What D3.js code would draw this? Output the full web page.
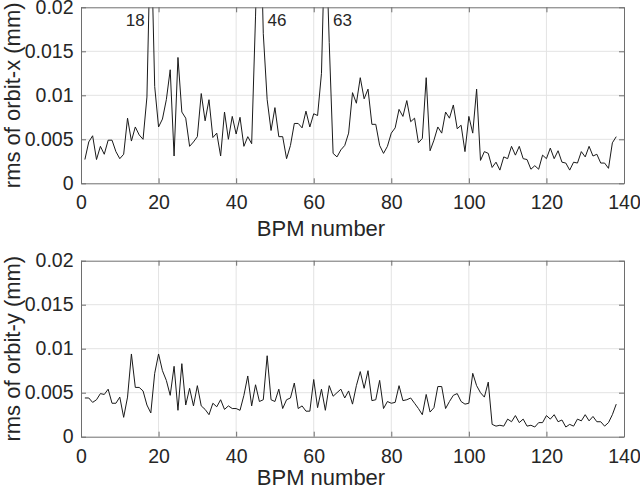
<!DOCTYPE html>
<html>
<head>
<meta charset="utf-8">
<script src="https://cdn.jsdelivr.net/npm/d3@7"></script>
<style>
  html, body { margin: 0; padding: 0; background: #fff; }
  svg { display: block; }
  text { font-family: "Liberation Sans", Arial, Helvetica, sans-serif; fill: #262626; }
</style>
</head>
<body>
<svg id="chart" width="640" height="489"></svg>
<script>
// ---- data ----
const bpmNumbers = d3.range(1, 139);
const rmsX = [
  0.0027, 0.0047, 0.0054, 0.0027, 0.0042, 0.0033, 0.0049, 0.0049, 0.0036, 0.0028,
  0.0033, 0.0074, 0.0048, 0.0064, 0.0055, 0.0050, 0.0098, 0.0300, 0.0110, 0.0064,
  0.0073, 0.0095, 0.0129, 0.0031, 0.0143, 0.0081, 0.0074, 0.0042, 0.0047, 0.0053,
  0.0102, 0.0071, 0.0095, 0.0052, 0.0057, 0.0031, 0.0081, 0.0050, 0.0076, 0.0056,
  0.0075, 0.0042, 0.0053, 0.0045, 0.0190, 0.0350, 0.0170, 0.0095, 0.0060, 0.0086,
  0.0053, 0.0053, 0.0028, 0.0043, 0.0068, 0.0068, 0.0063, 0.0082, 0.0064, 0.0079,
  0.0077, 0.0125, 0.0300, 0.0160, 0.0034, 0.0030, 0.0038, 0.0043, 0.0057, 0.0103,
  0.0091, 0.0120, 0.0096, 0.0107, 0.0067, 0.0067, 0.0043, 0.0034, 0.0042, 0.0057,
  0.0063, 0.0084, 0.0076, 0.0094, 0.0070, 0.0074, 0.0046, 0.0051, 0.0120, 0.0037,
  0.0049, 0.0064, 0.0057, 0.0081, 0.0074, 0.0089, 0.0062, 0.0066, 0.0036, 0.0076,
  0.0057, 0.0107, 0.0026, 0.0036, 0.0034, 0.0018, 0.0024, 0.0015, 0.0030, 0.0028,
  0.0042, 0.0032, 0.0042, 0.0028, 0.0027, 0.0016, 0.0020, 0.0016, 0.0032, 0.0028,
  0.0040, 0.0028, 0.0037, 0.0024, 0.0023, 0.0015, 0.0024, 0.0023, 0.0036, 0.0030,
  0.0042, 0.0031, 0.0033, 0.0023, 0.0023, 0.0017, 0.0046, 0.0053
];
const rmsY = [
  0.0044, 0.0044, 0.0039, 0.0042, 0.0049, 0.0048, 0.0054, 0.0038, 0.0038, 0.0045,
  0.0022, 0.0045, 0.0094, 0.0056, 0.0056, 0.0052, 0.0036, 0.0027, 0.0072, 0.0094,
  0.0075, 0.0064, 0.0047, 0.0080, 0.0030, 0.0083, 0.0036, 0.0055, 0.0035, 0.0058,
  0.0035, 0.0031, 0.0025, 0.0038, 0.0034, 0.0042, 0.0031, 0.0035, 0.0032, 0.0032,
  0.0030, 0.0047, 0.0069, 0.0035, 0.0059, 0.0040, 0.0042, 0.0092, 0.0042, 0.0040,
  0.0054, 0.0032, 0.0042, 0.0044, 0.0061, 0.0032, 0.0035, 0.0029, 0.0029, 0.0065,
  0.0033, 0.0054, 0.0030, 0.0058, 0.0046, 0.0050, 0.0054, 0.0044, 0.0052, 0.0037,
  0.0058, 0.0074, 0.0055, 0.0075, 0.0041, 0.0042, 0.0064, 0.0032, 0.0040, 0.0038,
  0.0039, 0.0058, 0.0041, 0.0042, 0.0044, 0.0038, 0.0032, 0.0025, 0.0048, 0.0028,
  0.0033, 0.0057, 0.0057, 0.0032, 0.0040, 0.0047, 0.0049, 0.0040, 0.0037, 0.0038,
  0.0072, 0.0058, 0.0050, 0.0045, 0.0062, 0.0014, 0.0012, 0.0013, 0.0012, 0.0020,
  0.0017, 0.0024, 0.0016, 0.0020, 0.0012, 0.0013, 0.0011, 0.0016, 0.0016, 0.0024,
  0.0020, 0.0025, 0.0017, 0.0019, 0.0011, 0.0014, 0.0012, 0.0020, 0.0018, 0.0025,
  0.0018, 0.0023, 0.0017, 0.0017, 0.0012, 0.0016, 0.0025, 0.0037
];
const xTicks = [0, 20, 40, 60, 80, 100, 120, 140];
const yTicks = [0, 0.005, 0.01, 0.015, 0.02];
const yTickLabels = ["0", "0.005", "0.01", "0.015", "0.02"];
const peakLabels = ["18", "46", "63"];
const peakLabelX = [16.4, 48.1, 65.0];
const peakLabelAnchor = ["end", "start", "start"];
const yLabels = ["rms of orbit-x (mm)", "rms of orbit-y (mm)"];
const xLabel = "BPM number";

// ---- layout ----
const panels = [
  { values: rmsX, ylabel: yLabels[0], top: 7.3, bottom: 183.3, xlabelY: 235.5, peaks: true },
  { values: rmsY, ylabel: yLabels[1], top: 260.7, bottom: 436.7, xlabelY: 485, peaks: false }
];

const svg = d3.select("#chart");
const left = 81, right = 624;
const tickFont = 19.5;
const labelFont = 22;
const frameColor = "#6e6e6e";
const gridColor = "#e3e3e3";
const tickLen = 5;

const x = d3.scaleLinear().domain([0, 140]).range([left, right]);

panels.forEach((p, i) => {
  const y = d3.scaleLinear().domain([0, 0.02]).range([p.bottom, p.top]);
  const g = svg.append("g");

  // grid
  g.append("g").selectAll("line").data(xTicks.slice(1, -1)).join("line")
    .attr("x1", d => x(d)).attr("x2", d => x(d))
    .attr("y1", p.top).attr("y2", p.bottom)
    .attr("stroke", gridColor).attr("stroke-width", 1);
  g.append("g").selectAll("line").data(yTicks.slice(1, -1)).join("line")
    .attr("y1", d => y(d)).attr("y2", d => y(d))
    .attr("x1", left).attr("x2", right)
    .attr("stroke", gridColor).attr("stroke-width", 1);

  // data line, clipped to the axes box
  const clipId = "clip" + i;
  svg.append("clipPath").attr("id", clipId).append("rect")
    .attr("x", left).attr("y", p.top).attr("width", right - left).attr("height", p.bottom - p.top);
  const line = d3.line().x((d, k) => x(bpmNumbers[k])).y(d => y(d));
  g.append("path").datum(p.values)
    .attr("clip-path", `url(#${clipId})`)
    .attr("d", line).attr("fill", "none")
    .attr("stroke", "#1a1a1a").attr("stroke-width", 1).attr("stroke-linejoin", "round");

  // axes (MATLAB style: inward ticks, box on)
  const axB = d3.axisBottom(x).tickValues(xTicks).tickSizeInner(-tickLen).tickSizeOuter(0).tickPadding(12);
  const axT = d3.axisTop(x).tickValues(xTicks).tickSizeInner(-tickLen).tickSizeOuter(0).tickFormat("");
  const axL = d3.axisLeft(y).tickValues(yTicks).tickSizeInner(-tickLen).tickSizeOuter(0).tickPadding(7.5)
    .tickFormat((d, k) => yTickLabels[k]);
  const axR = d3.axisRight(y).tickValues(yTicks).tickSizeInner(-tickLen).tickSizeOuter(0).tickFormat("");

  const styleAxis = sel => {
    sel.select(".domain").attr("stroke", frameColor);
    sel.selectAll(".tick line").attr("stroke", frameColor);
    sel.selectAll(".tick text").attr("font-size", tickFont).attr("fill", "#262626")
      .attr("font-family", '"Liberation Sans", Arial, sans-serif');
  };
  g.append("g").attr("transform", `translate(0,${p.bottom})`).call(axB).call(styleAxis);
  g.append("g").attr("transform", `translate(0,${p.top})`).call(axT).call(styleAxis);
  g.append("g").attr("transform", `translate(${left},0)`).call(axL).call(styleAxis);
  g.append("g").attr("transform", `translate(${right},0)`).call(axR).call(styleAxis);

  // x label
  g.append("text").attr("x", 321).attr("y", p.xlabelY)
    .attr("text-anchor", "middle").attr("font-size", labelFont).text(xLabel);
  // y label
  g.append("text")
    .attr("transform", `translate(20,${(p.top + p.bottom) / 2}) rotate(-90)`)
    .attr("text-anchor", "middle").attr("font-size", labelFont).text(p.ylabel);

  if (p.peaks) {
    peakLabels.forEach((t, k) => {
      g.append("text").attr("x", x(peakLabelX[k])).attr("y", p.top + 18.5)
        .attr("text-anchor", peakLabelAnchor[k]).attr("font-size", 17).text(t);
    });
  }
});
</script>
</body>
</html>
